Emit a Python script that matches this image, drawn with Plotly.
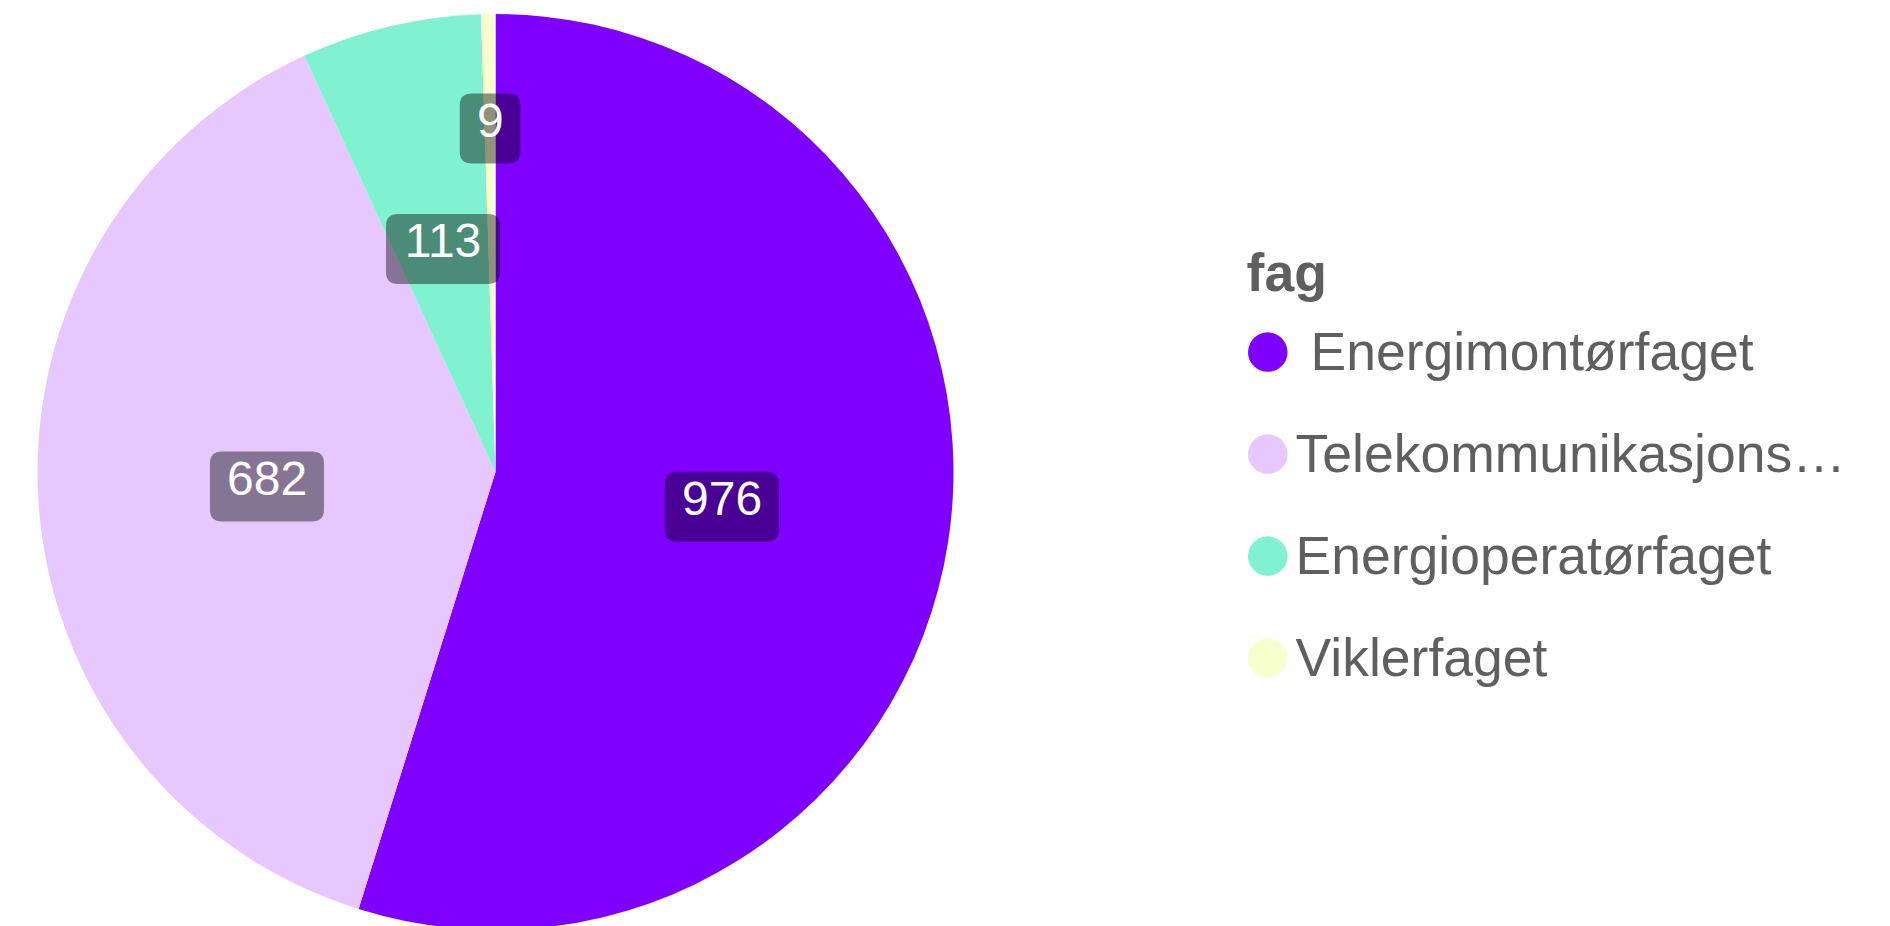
import math
import plotly.graph_objects as go

# data
fag = [' Energimontørfaget', 'Telekommunikasjons…', 'Energioperatørfaget', 'Viklerfaget']
antall = [976, 682, 113, 9]
farger = ['#7F00FF', '#E6C8FE', '#80F2CF', '#F7FFCC']

# page geometry (px inside the plot div)
W, H = 1874, 950
CX, CY, R = 487.5, 464, 458
LABEL_SIZE = 48
LEGEND_SIZE = 53.5
FONT = 'Arial, Liberation Sans'


def px(x, y):
    # pixel position in the div -> paper coordinates
    return x / W, 1 - y / H


fig = go.Figure()

fig.add_trace(go.Pie(
    labels=fag, values=antall,
    marker=dict(colors=farger),
    sort=False, direction='clockwise', rotation=0,
    textinfo='none', hoverinfo='label+value',
    showlegend=False,
    domain=dict(x=[(CX - R) / W, (CX + R) / W],
                y=[1 - (CY + R) / H, 1 - (CY - R) / H]),
))

# value labels in rounded dark boxes, at the middle angle of each slice
total = sum(antall)
start = 0.0
for verdi in antall:
    span = verdi / total * 360
    mid = math.radians(start + span / 2)
    start += span
    r = R * (0.75 if verdi / total < 0.01 else 0.5)
    tekst = str(verdi)
    lx, ly = CX + r * math.sin(mid), CY - r * math.cos(mid)
    bw, bh, rr = len(tekst) * 0.556 * LABEL_SIZE + 34, 70, 12
    x0, x1, y0, y1 = lx - bw / 2, lx + bw / 2, ly - bh / 2, ly + bh / 2
    pts = [
        ('M', x0 + rr, y0), ('L', x1 - rr, y0), ('Q', x1, y0, x1, y0 + rr),
        ('L', x1, y1 - rr), ('Q', x1, y1, x1 - rr, y1),
        ('L', x0 + rr, y1), ('Q', x0, y1, x0, y1 - rr),
        ('L', x0, y0 + rr), ('Q', x0, y0, x0 + rr, y0),
    ]
    path = ''
    for p in pts:
        coords = []
        for i in range(1, len(p), 2):
            a, b = px(p[i], p[i + 1])
            coords.append(f'{a:.6f},{b:.6f}')
        path += p[0] + ' '.join(coords) + ' '
    fig.add_shape(type='path', path=path + 'Z', xref='paper', yref='paper',
                  fillcolor='rgba(0,0,0,0.42)', line=dict(width=0), layer='above')
    ax, ay = px(lx, ly)
    fig.add_annotation(
        x=ax, y=ay, xref='paper', yref='paper', showarrow=False,
        text=tekst, xanchor='center', yanchor='middle',
        font=dict(family=FONT, size=LABEL_SIZE, color='white'),
        borderwidth=0, borderpad=0,
        width=bw, height=bh, valign='top',
    )

# legend entries with round symbols
for navn, farge in zip(fag, farger):
    prikk = f'<span style="color:{farge};font-size:92px;baseline-shift:-8px">●</span>'
    if navn.startswith(' '):
        navn_html = '&nbsp;' + navn[1:]
    else:
        navn_html = navn
    fig.add_trace(go.Scatter(
        x=[None], y=[None], mode='lines', line=dict(width=0),
        name=prikk + navn_html,
        legendgroup=navn, hoverinfo='skip',
    ))

fig.update_layout(
    width=W, height=H,
    margin=dict(l=0, r=0, t=0, b=0),
    paper_bgcolor='white', plot_bgcolor='white',
    xaxis=dict(visible=False), yaxis=dict(visible=False),
    legend=dict(
        title=dict(text='&nbsp;&nbsp;&nbsp;<span style="baseline-shift:17px"><b>fag</b></span>',
                   font=dict(family=FONT, size=LEGEND_SIZE, color='#5f5f5f')),
        font=dict(family=FONT, size=LEGEND_SIZE, color='#5f5f5f'),
        x=1192 / W, xanchor='left', y=1 - 230.5 / H, yanchor='top',
        traceorder='grouped', tracegroupgap=29.3,
        itemclick=False, itemdoubleclick=False,
    ),
)

fig.write_html("out.html")
